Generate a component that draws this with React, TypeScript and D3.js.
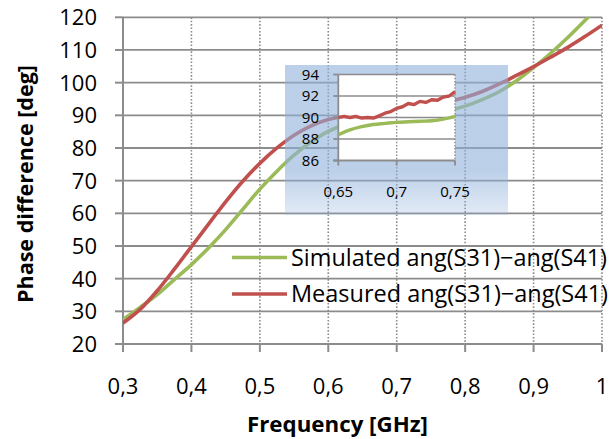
import React from "react";
import * as d3 from "d3";

// Frequency sweep (GHz) and phase difference (deg) of the coupler outputs
const freqMain = [0.3, 0.325, 0.35, 0.375, 0.4, 0.425, 0.45, 0.475, 0.5, 0.525, 0.55, 0.575, 0.6, 0.625, 0.65, 0.675, 0.7, 0.725, 0.75, 0.775, 0.8, 0.825, 0.85, 0.875, 0.9, 0.925, 0.95, 0.975, 1.0];
const simulated = [27.5, 31.2, 35.1, 39.7, 44.3, 49.4, 55.0, 61.2, 67.4, 72.9, 77.8, 81.9, 85.1, 87.2, 88.4, 89.1, 89.5, 89.8, 90.4, 91.4, 92.8, 94.8, 97.3, 100.6, 104.6, 109.0, 113.8, 119.0, 124.5];
const measured = [26.4, 30.6, 36.3, 42.9, 49.8, 56.7, 63.5, 69.8, 75.3, 80.0, 83.9, 86.8, 88.7, 89.7, 90.1, 90.3, 91.0, 91.8, 92.9, 94.1, 95.5, 97.3, 99.6, 102.2, 104.9, 107.8, 110.8, 114.1, 117.6];

// Zoomed detail 0.65 - 0.75 GHz
const freqInsetMeas = [0.65, 0.655, 0.66, 0.665, 0.67, 0.675, 0.68, 0.685, 0.69, 0.695, 0.7, 0.705, 0.71, 0.715, 0.72, 0.725, 0.73, 0.735, 0.74, 0.745, 0.75];
const measuredInset = [90.0, 90.1, 90.0, 90.1, 89.95, 90.0, 89.95, 90.15, 90.4, 90.55, 90.85, 91.0, 91.3, 91.2, 91.5, 91.4, 91.65, 91.6, 91.9, 92.0, 92.4];
const freqInsetSim = [0.65, 0.66, 0.67, 0.68, 0.69, 0.7, 0.71, 0.72, 0.73, 0.74, 0.75];
const simulatedInset = [88.4, 88.85, 89.15, 89.35, 89.45, 89.55, 89.6, 89.65, 89.7, 89.85, 90.1];

const xTicks = [0.3, 0.4, 0.5, 0.6, 0.7, 0.8, 0.9, 1];
const yTicks = [20, 30, 40, 50, 60, 70, 80, 90, 100, 110, 120];
const insetXTicks = [0.65, 0.7, 0.75];
const insetYTicks = [86, 88, 90, 92, 94];

const seriesNames = ["Simulated ang(S31)\u2212ang(S41)", "Measured ang(S31)\u2212ang(S41)"];
const GREEN = "#9bbb59";
const RED = "#c0504d";
const GRID = "#8c8c8c";
const FONT = "'Open Sans', 'Noto Sans', sans-serif";

const fmt = (v: number) => String(v).replace(".", ",");

export default function App() {
  const W = 611, H = 439;
  const x = d3.scaleLinear().domain([0.3, 1]).range([123, 602]);
  const y = d3.scaleLinear().domain([20, 120]).range([344, 17.3]);
  const xi = d3.scaleLinear().domain([0.65, 0.75]).range([338.3, 455]);
  const yi = d3.scaleLinear().domain([86, 94]).range([160.5, 74.5]);

  const mainLine = (fs: number[], vs: number[]) =>
    d3.line<number>().x((_, i) => x(fs[i])).y((v) => y(v)).curve(d3.curveCatmullRom.alpha(0.5))(vs) || "";
  const insetLine = (fs: number[], vs: number[], curve: d3.CurveFactory) =>
    d3.line<number>().x((_, i) => xi(fs[i])).y((v) => yi(v)).curve(curve)(vs) || "";

  const [x0, x1] = x.range();
  const [yb, yt] = y.range();
  const [ix0, ix1] = xi.range();
  const [iyb, iyt] = yi.range();

  return (
    <svg width={W} height={H} style={{ position: "absolute", left: 0, top: 0, background: "#fff" }} fontFamily={FONT}>
      <defs>
        <clipPath id="plotClip">
          <rect x={x0} y={yt} width={x1 - x0} height={yb - yt} />
        </clipPath>
        <clipPath id="insetClip">
          <rect x={ix0} y={iyt - 3} width={ix1 - ix0 + 2} height={iyb - iyt + 3} />
        </clipPath>
        <linearGradient id="panelFill" x1="0" y1="0" x2="0" y2="1">
          <stop offset="0" stopColor="#8fb0da" stopOpacity={0.6} />
          <stop offset="0.7" stopColor="#8fb0da" stopOpacity={0.6} />
          <stop offset="1" stopColor="#8fb0da" stopOpacity={0.25} />
        </linearGradient>
      </defs>

      {/* horizontal grid */}
      {yTicks.slice(1).map((t) => (
        <line key={"h" + t} x1={x0} x2={x1} y1={y(t)} y2={y(t)} stroke={GRID} strokeWidth={1.8} />
      ))}
      {/* vertical dotted grid */}
      {xTicks.slice(1).map((t) => (
        <line key={"v" + t} x1={x(t)} x2={x(t)} y1={yt} y2={yb} stroke={GRID} strokeWidth={1.6} strokeDasharray="1.6,1.8" />
      ))}
      {/* axes */}
      <line x1={x0} x2={x0} y1={yt} y2={yb} stroke={GRID} strokeWidth={2} />
      <line x1={x0 - 8} x2={x1} y1={yb} y2={yb} stroke={GRID} strokeWidth={2} />
      {yTicks.map((t) => (
        <line key={"yt" + t} x1={x0 - 8} x2={x0} y1={y(t)} y2={y(t)} stroke={GRID} strokeWidth={2} />
      ))}
      {xTicks.map((t) => (
        <line key={"xt" + t} x1={x(t)} x2={x(t)} y1={yb} y2={yb + 8} stroke={GRID} strokeWidth={2} />
      ))}
      {yTicks.map((t) => (
        <text key={"yl" + t} x={97} y={y(t)} dy="0.36em" textAnchor="end" fontSize={22} fill="#000">{t}</text>
      ))}
      {xTicks.map((t) => (
        <text key={"xl" + t} x={x(t)} y={386.5} dy="0.36em" textAnchor="middle" fontSize={22} fill="#000">{fmt(t)}</text>
      ))}

      {/* axis titles */}
      <text x={337.5} y={431.5} textAnchor="middle" fontSize={21.5} fontWeight="bold" textLength={181} lengthAdjust="spacingAndGlyphs">Frequency [GHz]</text>
      <text transform="translate(25,184) rotate(-90)" dy="0.36em" textAnchor="middle" fontSize={21} fontWeight="bold" textLength={238} lengthAdjust="spacingAndGlyphs">Phase difference [deg]</text>

      {/* curves */}
      <g clipPath="url(#plotClip)" fill="none" strokeWidth={3.6} strokeLinejoin="round">
        <path d={mainLine(freqMain, simulated)} stroke={GREEN} />
        <path d={mainLine(freqMain, measured)} stroke={RED} />
      </g>

      {/* inset panel */}
      <rect x={285} y={65} width={223} height={150} fill="url(#panelFill)" />
      <rect x={ix0} y={iyt} width={ix1 - ix0} height={iyb - iyt} fill="#fff" />
      {insetYTicks.slice(1).map((t) => (
        <line key={"ih" + t} x1={ix0} x2={ix1} y1={yi(t)} y2={yi(t)} stroke={GRID} strokeWidth={1.6} />
      ))}
      {insetXTicks.slice(1).map((t) => (
        <line key={"iv" + t} x1={xi(t)} x2={xi(t)} y1={iyt} y2={iyb} stroke={GRID} strokeWidth={1.4} strokeDasharray="1.5,1.7" />
      ))}
      <line x1={ix0} x2={ix0} y1={iyt} y2={iyb} stroke={GRID} strokeWidth={1.8} />
      <line x1={ix0 - 5} x2={ix1} y1={iyb} y2={iyb} stroke={GRID} strokeWidth={1.8} />
      {insetYTicks.map((t) => (
        <line key={"iyt" + t} x1={ix0 - 5} x2={ix0} y1={yi(t)} y2={yi(t)} stroke={GRID} strokeWidth={1.8} />
      ))}
      {insetXTicks.map((t) => (
        <line key={"ixt" + t} x1={xi(t)} x2={xi(t)} y1={iyb} y2={iyb + 5} stroke={GRID} strokeWidth={1.8} />
      ))}
      {insetYTicks.map((t) => (
        <text key={"iyl" + t} x={319} y={yi(t)} dy="0.36em" textAnchor="end" fontSize={15} fill="#000">{t}</text>
      ))}
      {insetXTicks.map((t) => (
        <text key={"ixl" + t} x={xi(t)} y={191.7} dy="0.36em" textAnchor="middle" fontSize={15} fill="#000">{fmt(t)}</text>
      ))}
      <g clipPath="url(#insetClip)" fill="none" strokeWidth={3.4} strokeLinejoin="round">
        <path d={insetLine(freqInsetSim, simulatedInset, d3.curveMonotoneX)} stroke={GREEN} />
        <path d={insetLine(freqInsetMeas, measuredInset, d3.curveLinear)} stroke={RED} />
      </g>

      {/* legend */}
      {seriesNames.map((name, i) => {
        const ly = 257.5 + i * 36.5;
        return (
          <g key={name}>
            <line x1={232} x2={287} y1={ly} y2={ly} stroke={i === 0 ? GREEN : RED} strokeWidth={3.6} />
            <text x={291} y={ly} dy="0.36em" fontSize={23} fill="#000" textLength={i === 0 ? 316 : 317} lengthAdjust="spacingAndGlyphs">{name}</text>
          </g>
        );
      })}
    </svg>
  );
}
